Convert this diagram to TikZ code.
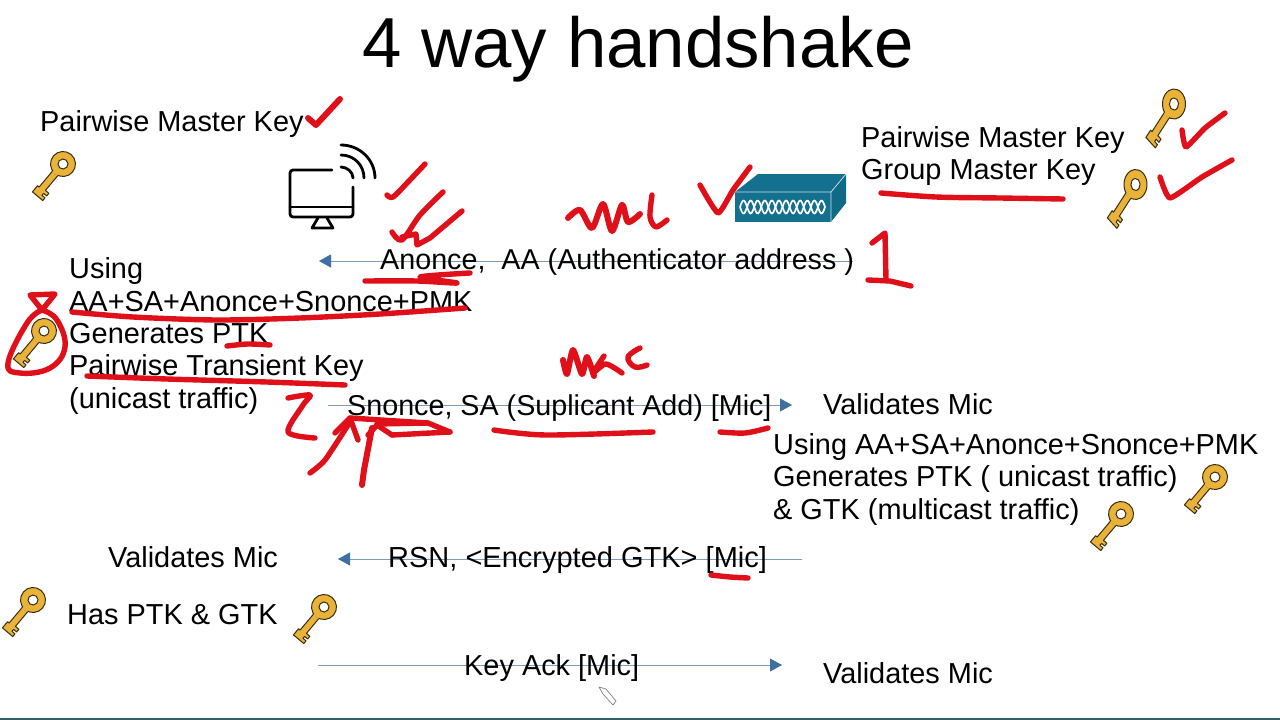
\documentclass[tikz,border=0pt]{standalone}
\usepackage{fontspec}
\setmainfont{Liberation Sans}
\usetikzlibrary{arrows.meta,positioning,calc}
\definecolor{InkRed}{HTML}{E0101A}
\definecolor{KeyGold}{HTML}{E9B238}
\definecolor{KeyEdge}{HTML}{3A2E10}
\definecolor{ArrowBlue}{HTML}{3F6FA3}
\definecolor{ArrowLine}{HTML}{7F9BB8}
\definecolor{RouterTeal}{HTML}{13708F}
\definecolor{RouterSide}{HTML}{0F6A88}
\definecolor{BarTeal}{HTML}{2F5F6B}
\tikzset{
  keyicon/.pic={
    \draw[draw=KeyEdge,fill=KeyGold,line width=1pt,line join=round]
      (9,3.5) -- (33,3.5) -- (33,5.5) -- (41,5.5) -- (41,-8) -- (37.5,-8) -- (37.5,-4)
      -- (35,-4) -- (35,-8) -- (31.5,-8) -- (31.5,-3.5) -- (9,-3.5) -- cycle;
    \draw[draw=KeyEdge,fill=KeyGold,line width=1pt] (0,0) circle (12.5);
    \fill[KeyGold] (8,-3) rectangle (13,3);
    \draw[draw=KeyEdge,fill=white,line width=1pt] (0,0) circle (5);
  }
}
\begin{document}
\begin{tikzpicture}[
    x=1pt,y=-1pt,
    label/.style={font=\fontsize{28.9}{32.4}\selectfont,inner sep=0pt,align=left,text=black},
    narrowlabel/.style={label,font=\fontsize{28.7}{32.4}\selectfont},
    widelabel/.style={label,font=\fontsize{29}{32.4}\selectfont},
    titletext/.style={font=\fontsize{70.8}{72}\selectfont,inner sep=0pt},
    message/.style={-{Triangle[length=12pt,width=13pt,color=ArrowBlue]},line width=0.9pt,draw=ArrowLine},
    ink/.style={draw=InkRed,line width=5.4pt,line cap=round,line join=round},
    station/.style={draw=black,line width=2.8pt,line cap=round,line join=round},
    tallkey/.style={xscale=0.92,yscale=1.2,rotate=230}
  ]
    \fill[white] (0,0) rectangle (1280,720);
    \useasboundingbox (0,0) rectangle (1280,720);
    \fill[BarTeal] (0,717.5) rectangle (1280,720);

    % arrows go under the text
    \coordinate (msgoneR) at (853,261);
    \coordinate (msgoneL) at (319,261);
    \coordinate (msgtwoL) at (328,405);
    \coordinate (msgtwoR) at (792,405);
    \coordinate (msgthreeR) at (802,559);
    \coordinate (msgthreeL) at (338,559);
    \coordinate (msgfourL) at (318,665);
    \coordinate (msgfourR) at (782,665);
    \draw[message] (msgoneR) -- (msgoneL);
    \draw[message] (msgtwoL) -- (msgtwoR);
    \draw[message] (msgthreeR) -- (msgthreeL);
    \draw[message] (msgfourL) -- (msgfourR);

    \node[titletext,anchor=base] (title) at (638,67) {4 way handshake};
    \node[label,anchor=base west] (pmkleft) at (40,131) {Pairwise Master Key};
    \node[label,anchor=west] (keysright) at (861,156) {Pairwise Master Key\\Group Master Key};
    \node[narrowlabel,anchor=base west] (anonce) at (380,269) {Anonce,\ \ AA (Authenticator address )};
    \node[label,anchor=west] (derive) at (69,336) {Using\\AA+SA+Anonce+Snonce+PMK\\Generates PTK\\Pairwise Transient Key\\(unicast traffic)};
    \node[narrowlabel,anchor=base west] (snonce) at (347,415) {Snonce, SA (Suplicant Add) [Mic]};
    \node[label,anchor=base west] (validatesA) at (823,414) {Validates Mic};
    \node[label,anchor=west] (deriveAP) at (773,479.5) {Using AA+SA+Anonce+Snonce+PMK\\Generates PTK ( unicast traffic)\\\& GTK (multicast traffic)};
    \node[widelabel,anchor=base west] (rsn) at (388,567) {RSN, <Encrypted GTK> [Mic]};
    \node[label,anchor=base west] (validatesB) at (108,567) {Validates Mic};
    \node[label,anchor=base west] (hasptk) at (67,624) {Has PTK \& GTK};
    \node[label,anchor=base west] (keyack) at (464,675) {Key Ack [Mic]};
    \node[label,anchor=base west] (validatesC) at (823,683) {Validates Mic};

    % keys
    \pic[rotate=230] at (63,164) {keyicon};
    \pic[rotate=230] at (44,331) {keyicon};
    \pic[tallkey] at (1174,104) {keyicon};
    \pic[tallkey] at (1135.5,184.5) {keyicon};
    \pic[rotate=230] at (1215,477) {keyicon};
    \pic[rotate=230] at (1121,514) {keyicon};
    \pic[rotate=230] at (33,600) {keyicon};
    \pic[rotate=230] at (324,607) {keyicon};

    % monitor
    \draw[station,rounded corners=3pt] (332,170) -- (290,170) -- (290,217) -- (353,217) -- (353,187);
    \draw[station] (290,207) -- (353,207);
    \draw[station] (318,218) -- (312,228) -- (333,228) -- (327,218);
    \draw[station] (341,167) .. controls (347,167) and (353,172) .. (353,178);
    \draw[station] (341,155) .. controls (354,155) and (364,165) .. (364,178);
    \draw[station] (341,145) .. controls (360,145) and (375,160) .. (375,178);

    % router
    \fill[RouterTeal] (735,192) -- (758,174) -- (846,174) -- (831,192) -- cycle;
    \fill[RouterSide] (831,192) -- (846,174) -- (846,203) -- (831,222) -- cycle;
    \fill[RouterTeal] (735,192) rectangle (831,222);
    \draw[white,line width=0.7pt,opacity=0.8] (735,192) -- (831,192) -- (846,174) (831,192) -- (831,222);
    \draw[white,line width=1.7pt] plot[domain=740:825,samples=90] (\x,{207+6.5*sin((\x-740)/14.17*360)});
    \draw[white,line width=1.7pt] plot[domain=740:825,samples=90] (\x,{207-6.5*sin((\x-740)/14.17*360)});

    % cursor
    \draw[fill=white,draw=gray,line width=0.7pt,line join=round]
      (599,687) -- (606,689) -- (616,701) -- (613,705) -- (603,694) -- cycle;

    % red pen, top
    \draw[ink,line width=6pt] (308,118) -- (316,125) -- (340,99);
    \draw[ink] plot[smooth] coordinates {(387,195) (393,197) (408,182) (425,164)};
    \draw[ink] plot[smooth] coordinates {(392,232) (402,240) (420,215) (443,192)};
    \draw[ink] (402,237) -- (416,234) -- (417,245) -- (430,238) -- (462,211);
    \draw[ink,line width=6pt] plot[smooth,tension=0.5] coordinates {(568,218) (580,210) (592,228) (603,204) (612,231) (622,205) (628,222) (640,214)};
    \draw[ink] plot[smooth] coordinates {(652,195) (650,217) (656,227) (667,220)};
    \draw[ink] plot[smooth,tension=0.3] coordinates {(700,185) (718,213) (733,190) (750,167)};
    \draw[ink] plot[smooth] coordinates {(881,193) (936,197) (1000,198) (1063,199)};
    \draw[ink] plot[smooth,tension=0.3] coordinates {(1182,130) (1186,147) (1205,128) (1225,113)};
    \draw[ink] plot[smooth,tension=0.3] coordinates {(1160,177) (1170,198) (1202,177) (1232,160)};
    \draw[ink] (872,243) -- (885,233) -- (886,279);
    \draw[ink] (868,280) -- (890,281) -- (911,286);

    % red pen, left
    \draw[ink] plot[smooth,tension=0.5] coordinates {(365,281) (417,281) (457,283) (420,277) (470,273)};
    \draw[ink] plot[smooth] coordinates {(72,312) (133,317) (217,320) (300,318) (380,314) (465,308)};
    \draw[ink] plot[smooth] coordinates {(227,346) (248,344) (270,345)};
    \draw[ink] plot[smooth] coordinates {(87,376) (167,379) (267,382) (345,385)};
    \draw[ink] (42,310) -- (30,295) -- (55,294) -- cycle;
    \draw[ink] plot[smooth,tension=0.7] coordinates {(42,310) (27,323) (8,363) (20,373) (50,368) (65,347) (57,320) (42,310)};

    % red pen, middle
    \draw[ink] plot[smooth,tension=0.5] coordinates {(288,398) (310,395) (303,405) (288,432) (315,438)};
    \draw[ink] plot[smooth,tension=0.4] coordinates {(310,473) (325,460) (348,425)};
    \draw[ink] (335,433) -- (350,418) -- (358,440);
    \draw[ink] (350,418) -- (428,423) -- (450,432);
    \draw[ink] (377,424) -- (428,423);
    \draw[ink] (392,435) -- (450,432);
    \draw[ink,line width=6pt] (362,485) -- (364,470) -- (372,428);
    \draw[ink] (368,435) -- (377,425) -- (392,435);
    \draw[ink] plot[smooth] coordinates {(494,430) (546,435) (653,432)};
    \draw[ink] plot[smooth] coordinates {(720,432) (745,433) (768,428)};
    \draw[ink,line width=6pt] plot[smooth,tension=0.4] coordinates {(563,360) (567,374) (573,350) (582,374) (587,357) (594,376)};
    \draw[ink] plot[smooth,tension=0.5] coordinates {(604,356) (594,372) (606,364) (622,373)};
    \draw[ink] plot[smooth,tension=0.7] coordinates {(640,348) (628,357) (635,367) (647,365)};
    \draw[ink] plot[smooth] coordinates {(711,575) (730,577) (748,578)};
  \end{tikzpicture}
\end{document}
